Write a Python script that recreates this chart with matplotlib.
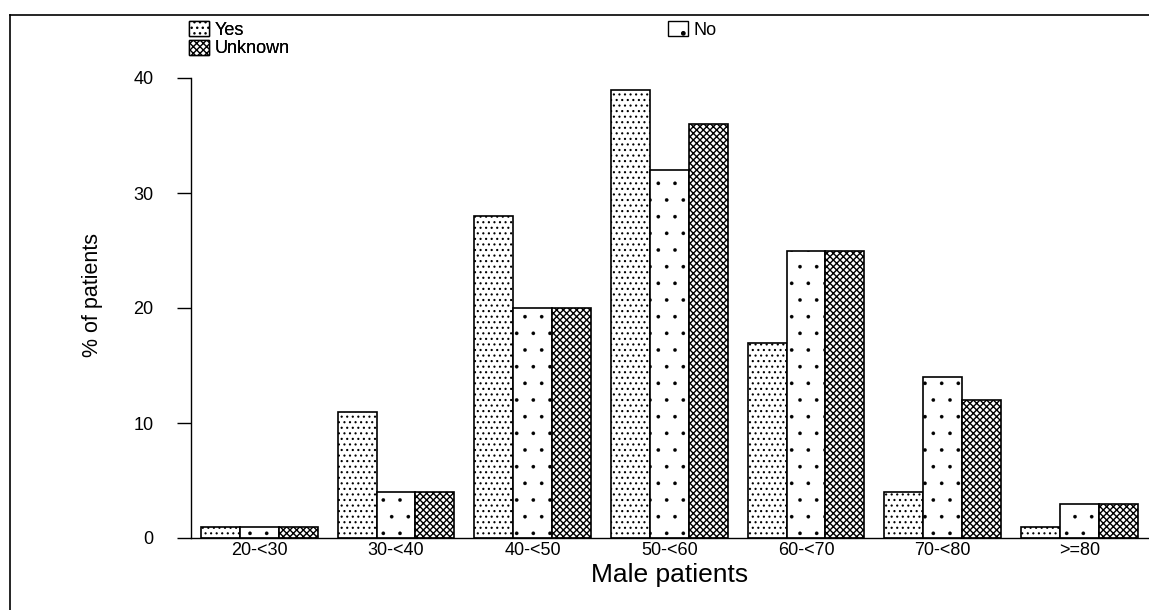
import matplotlib
matplotlib.use("Agg")
import matplotlib.pyplot as plt
from matplotlib.lines import Line2D
from matplotlib.patches import Patch
import numpy as np

plt.rcParams['font.family'] = ['Liberation Sans', 'DejaVu Sans']

age_groups = ["20-<30", "30-<40", "40-<50", "50-<60", "60-<70", "70-<80", ">=80"]
series_names = ["Yes", "No", "Unknown"]
yes_pct = [1, 11, 28, 39, 17, 4, 1]
no_pct = [1, 4, 20, 32, 25, 14, 3]
unknown_pct = [1, 4, 20, 36, 25, 12, 3]
y_ticks = [0, 10, 20, 30, 40]

hatches = {"Yes": "...", "No": ".", "Unknown": "xxxxx"}
hatch_lw = {"Yes": 0.8, "No": 0.2, "Unknown": 1.0}

W, H = 1149, 610
fig = plt.figure(figsize=(W / 100, H / 100), dpi=100)
ax = fig.add_axes([191 / W, 1 - 538 / H, (W - 191) / W, (538 - 78) / H])

x = np.arange(len(age_groups))
bw = 0.285
series = [("Yes", yes_pct), ("No", no_pct), ("Unknown", unknown_pct)]
for i, (name, vals) in enumerate(series):
    with plt.rc_context({"hatch.linewidth": hatch_lw[name]}):
        ax.bar(x + (i - 1) * bw, vals, width=bw, facecolor="white",
               edgecolor="black", linewidth=1.2, hatch=hatches[name], zorder=2)

ax.set_xlim(-0.5, 6.51)
ax.set_ylim(0, 40)
ax.set_yticks(y_ticks)
ax.set_xticks(x)
ax.set_xticklabels(age_groups, fontsize=13)
ax.tick_params(axis="x", length=0, pad=3)
ax.tick_params(axis="y", length=10, width=1.0, pad=17, labelsize=13)
for s in ("top", "right"):
    ax.spines[s].set_visible(False)
ax.spines["left"].set_linewidth(1.0)
ax.spines["bottom"].set_linewidth(1.0)
ax.spines["left"].set_bounds(0, 40)

ax.set_xlabel("Male patients", fontsize=19, labelpad=3)
ax.set_ylabel("% of patients", fontsize=15.5)
ax.yaxis.set_label_coords(-0.092, 0.528)


def handle(name):
    with plt.rc_context({"hatch.linewidth": hatch_lw[name]}):
        return Patch(facecolor="white", edgecolor="black", hatch=hatches[name], linewidth=1.0)


leg_kw = dict(loc="upper left", frameon=False, fontsize=13, handlelength=1.1,
              handleheight=0.9, handletextpad=0.3, labelspacing=0.05,
              borderpad=0, borderaxespad=0)
leg1 = fig.legend([handle("Yes"), handle("Unknown")], ["Yes", "Unknown"],
                  bbox_to_anchor=(189 / W, 1 - 21 / H), **leg_kw)
leg2 = fig.legend([handle("No")], ["No"],
                  bbox_to_anchor=(668 / W, 1 - 21 / H), **leg_kw)
fig.add_artist(leg1)

# outer frame lines
fig.add_artist(Line2D([9.5 / W, 9.5 / W], [0, 1 - 15 / H], transform=fig.transFigure,
                      color="black", linewidth=1.2))
fig.add_artist(Line2D([9.5 / W, 1], [1 - 15 / H, 1 - 15 / H], transform=fig.transFigure,
                      color="black", linewidth=1.2))

fig.savefig("out.png", dpi=100)
